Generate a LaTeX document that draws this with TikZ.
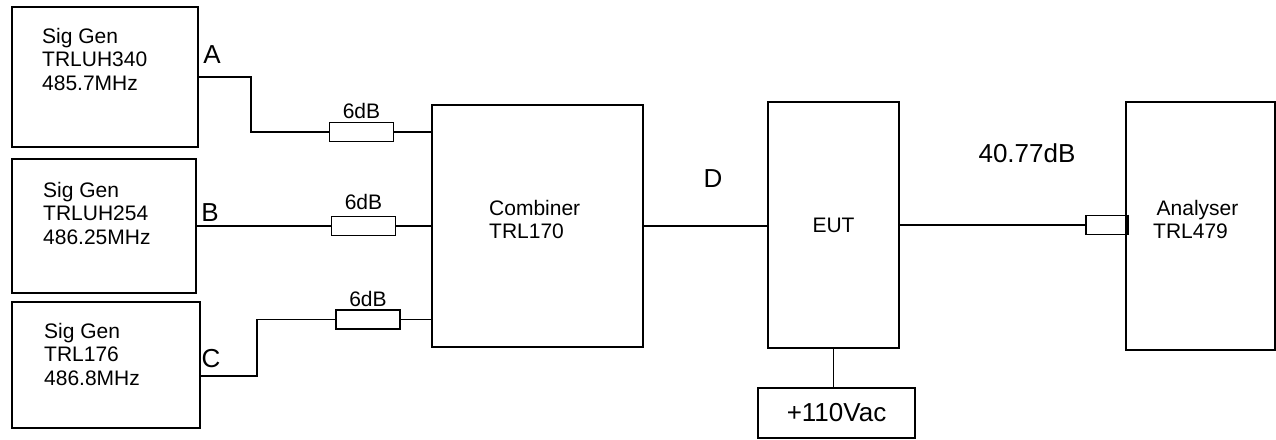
\documentclass[tikz,border=0pt]{standalone}
\usepackage{fontspec}
\setmainfont{Liberation Sans}
\usetikzlibrary{positioning,calc}
\tikzset{
  unit/.style={draw,line width=2pt,inner sep=0pt,align=left,
               font=\fontsize{21}{24}\selectfont},
  pad/.style={draw,line width=1.6pt,inner sep=0pt,
              minimum width=64pt,minimum height=19pt},
  wire/.style={line width=1.6pt},
  txt/.style={font=\fontsize{21}{23.5}\selectfont,align=left,inner sep=0pt},
  tag/.style={font=\fontsize{26}{30}\selectfont,inner sep=0pt},
}
\begin{document}
\begin{tikzpicture}[x=1pt,y=-1pt]
  \useasboundingbox (0,0) rectangle (1276,439);
  % signal generators
  \node[unit,minimum width=186pt,minimum height=140pt] (genA) at (105,77) {};
  \node[unit,minimum width=184pt,minimum height=134pt] (genB) at (104,226) {};
  \node[unit,minimum width=188pt,minimum height=126pt] (genC) at (106,365) {};
  \node[txt,anchor=north west] (nameA) at (42,28) {Sig Gen\\TRLUH340\\485.7MHz};
  \node[txt,anchor=north west] (nameB) at (43,182) {Sig Gen\\TRLUH254\\486.25MHz};
  \node[txt,anchor=north west] (nameC) at (44,323) {Sig Gen\\TRL176\\486.8MHz};
  % attenuators
  \node[pad] (attA) at (361.5,132) {};
  \node[pad] (attB) at (363.5,226) {};
  \node[pad] (attC) at (368,319.5) {};
  \node[txt,above=3pt of attA] (dbA) {6dB};
  \node[txt,above=6pt of attB] (dbB) {6dB};
  \node[txt,above=2pt of attC] (dbC) {6dB};
  % main chain
  \node[unit,minimum width=211pt,minimum height=242pt] (comb) at (537.5,226) {};
  \node[unit,minimum width=131pt,minimum height=246pt] (eut) at (833.5,225) {EUT};
  \node[unit,minimum width=149pt,minimum height=248pt] (ana) at (1200.5,226) {};
  \node[txt,anchor=north west] (nameComb) at (489,200) {Combiner\\TRL170};
  \node[txt,anchor=north west] (nameAna) at (1153,200) {\,Analyser\\TRL479};
  \node[unit,minimum width=157pt,minimum height=50pt,
        font=\fontsize{26}{30}\selectfont] (pwr) at (836.5,413) {+110Vac};
  \node[pad,minimum width=40pt] (conn) at (1106,225) {};
  % labels
  \node[tag] (lblA) at (212,55) {A};
  \node[tag] (lblB) at (210,213) {B};
  \node[tag] (lblC) at (211,359) {C};
  \node[tag] (lblD) at (713,179) {D};
  \node[tag] (loss) at (1027,153) {40.77dB};
  % wiring
  \draw[wire] (genA.east) -- ++(52,0) |- (attA.west);
  \draw[wire] (attA.east) -- (attA.east -| comb.west);
  \draw[wire] (genB.east) -- (attB.west);
  \draw[wire] (attB.east) -- (attB.east -| comb.west);
  \draw[wire] ($(genC.east)+(0,11)$) -- ++(56,0) |- (attC.west);
  \draw[wire] (attC.east) -- (attC.east -| comb.west);
  \draw[wire] (comb.east) -- (comb.east -| eut.west);
  \draw[wire] (eut.east) -- (conn.west);
  \draw[line width=3.5pt] (conn.north east) -- (conn.south east);
  \draw[wire] (eut.south) -- (eut.south |- pwr.north);
\end{tikzpicture}
\end{document}
